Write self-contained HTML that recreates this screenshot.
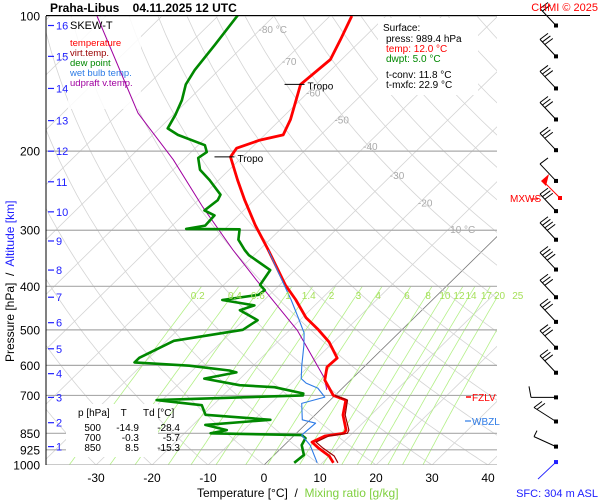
<!DOCTYPE html>
<html><head><meta charset="utf-8"><style>
body{margin:0;background:#fff;}
svg{display:block;font-family:"Liberation Sans",sans-serif;}
</style></head><body>
<svg id="c" width="600" height="500" viewBox="0 0 600 500" xmlns="http://www.w3.org/2000/svg">
<defs><clipPath id="plot"><rect x="46" y="16" width="451" height="449"/></clipPath></defs>
<rect width="600" height="500" fill="#fff"/>
<g id="grid" clip-path="url(#plot)"></g>
<g id="series" clip-path="url(#plot)"></g>
<g id="ann"></g>
</svg>
<script>
const pressTicks=[100,200,300,400,500,600,700,850,925,1000];
const tempTicks=[-30,-20,-10,0,10,20,30,40];
const kmTicks=[1,2,3,4,5,6,7,8,9,10,11,12,13,14,15,16];
const kmP=[910,805,707,626,551,482,423,368,317,273,234,200,171,145,123,105];
const mixRatios=[0.2,0.4,0.6,1,1.4,2,3,4,6,8,10,12,14,17,20,25];
const isoLabels=[-80,-70,-60,-50,-40,-30,-20,-10];
const isoLabelP=[107,126,148,170,195,226,260,298];
const tempP=[100,113,125,142,170,184,189,197,206,232,257,292,332,397,428,470,500,532,578,605,647,700,717,774,836,850,862,889,915,955,989];
const tempT=[-66.1,-63.8,-62,-62.8,-58.2,-56.7,-59.9,-62.6,-62.1,-56.6,-51.7,-45.3,-38.4,-29,-24.5,-19.3,-14.9,-10.8,-6.4,-6.6,-4.6,-0.3,2.8,5,8.3,8.5,5.6,4.4,6.5,10,12];
const virtP=[700,717,774,836,850,862,889,915,955,989];
const virtT=[0,3.1,5.4,8.8,9.1,6.3,5.1,7.3,10.9,12.8];
const dewP=[99.5,116,132,142,154,166,178,184,194,201,207,220,232,250,257,271,278,293,298,298.5,315,332,341,368,397,408,418,429,441,452,476,500,529,577,591,601,616,622,642,664,671,693,700,717,736,773,793,814,836,850,858,871,903,950,989];
const dewT=[-86.6,-85.3,-84.3,-83.3,-81.1,-79.6,-78.5,-75.5,-68.8,-67.2,-67.7,-65.2,-61.6,-57,-56.5,-57,-54.3,-54.1,-56.9,-47.3,-45.6,-42.6,-40.9,-34.4,-33.5,-31.7,-32,-37.5,-30.8,-32.5,-27.5,-28.4,-38.7,-41.8,-41.8,-31.4,-23.4,-21.8,-26.4,-18.9,-12.3,-6,-5.7,-31,-22,-19.6,-7.1,-17.8,-13,-15.3,1.3,2.5,3.1,5.3,5];
const wbP=[332,401,429,470,508,541,600,642,657,674,706,729,793,807,858,903,989];
const wbT=[-38.4,-28.7,-25.2,-20.7,-16.9,-14.7,-11.4,-9.1,-7.4,-4.4,-1.5,-4.5,-1.4,1.6,1.3,4.6,9.1];
const parP=[100,164.5,209,266.5,332,387,502,642,680];
const parT=[-111.6,-86.6,-71.8,-57.9,-44.7,-35.1,-18.5,-4.9,-2.5];
const windP=[105,123,145,170,199,233,272,315,367,423,480,548,623,707,800,910,985];
const windFeathers=[2,3,3,3,3,1,3,4,4,3,3,3,3,1,2,1,0];

const NS="http://www.w3.org/2000/svg";
function yP(p){return 16+449*Math.log10(p/100);}
function xT(t,p){return 264+5.6*t+1.02*(465-yP(p));}
function el(tag,attrs,parent,txt){const e=document.createElementNS(NS,tag);for(const k in attrs)e.setAttribute(k,attrs[k]);if(txt!==undefined)e.textContent=txt;parent.appendChild(e);return e;}
const svg=document.getElementById('c'),grid=document.getElementById('grid'),ser=document.getElementById('series'),ann=document.getElementById('ann');

for(let t=-160;t<=40;t+=10){
  const l=el('line',{x1:xT(t,1000),y1:yP(1000),x2:xT(t,100),y2:yP(100),stroke:t===0?'#777':'#d4d4d4','stroke-width':0.8},grid);
  
  
}
for(let th=-40;th<=200;th+=10){
  let d='';
  for(let p=1000;p>=100;p-=10){const T=(th+273.15)*Math.pow(p/1000,0.286)-273.15;d+=(p===1000?'M':'L')+xT(T,p).toFixed(1)+','+yP(p).toFixed(1);}
  const a=el('path',{d:d,fill:'none',stroke:'#d4d4d4','stroke-width':0.8},grid);
  
  
}
mixRatios.forEach(w=>{
  let d='';
  for(let p=1000;p>=400;p-=10){const e=w*p/(622+w);const L=Math.log(e/6.112);const T=243.5*L/(17.67-L);d+=(p===1000?'M':'L')+xT(T,p).toFixed(1)+','+yP(p).toFixed(1);}
  const m=el('path',{d:d,fill:'none',stroke:'#b4f088','stroke-width':0.8},grid);
  
  
});
pressTicks.forEach(p=>{
  const l=el('line',{x1:46,x2:497,y1:yP(p),y2:yP(p),stroke:'#aaa','stroke-width':1.2},grid);
  
  
  const t=el('text',{x:40,y:yP(p)+4.5,'text-anchor':'end','font-size':12,fill:'#000'},ann,String(p));
  
  
});
const b1=el('rect',{x:68,y:17,width:73,height:92,fill:'#fff','fill-opacity':0.85},grid);

const b2=el('rect',{x:378,y:18,width:100,height:77,fill:'#fff'},grid);

const b3=el('rect',{x:66,y:404,width:92,height:53,fill:'#fff'},grid);


function line(P,T,color,w,name){
  const d=P.map((p,i)=>(i?'L':'M')+xT(T[i],p).toFixed(1)+','+yP(p).toFixed(1)).join('');
  const e=el('path',{d:d,fill:'none',stroke:color,'stroke-width':w,'stroke-linejoin':'round'},ser);
  
  
}
line(parP,parT,'#a000a0',1,'updraft-virtual-temp-line');
line(dewP,dewT,'#008800',2.6,'dew-point-line');
line(tempP,tempT,'#ff0000',2.8,'temperature-line');
line(virtP,virtT,'#990000',1.2,'virtual-temp-line');
line(wbP,wbT,'#2d7be6',1.1,'wet-bulb-line');

el('line',{x1:46,y1:16,x2:46,y2:465,stroke:'#000','stroke-width':1},ann);
el('line',{x1:46,y1:15.5,x2:590,y2:15.5,stroke:'#000','stroke-width':1},ann);
tempTicks.forEach(t=>{
  const e=el('text',{x:xT(t,1000),y:482,'text-anchor':'middle','font-size':12},ann,String(t));
  
  
});
kmTicks.forEach((k,i)=>{
  const y=yP(kmP[i]);
  const l=el('line',{x1:48,x2:54,y1:y,y2:y,stroke:'#2020ff','stroke-width':1.2},ann);
  
  
  const t=el('text',{x:56,y:y+4,'font-size':11,fill:'#2020ff'},ann,String(k));
  
  
});
mixRatios.forEach(w=>{
  const e=w*400/(622+w);const L=Math.log(e/6.112);const T=243.5*L/(17.67-L);
  const t=el('text',{x:xT(T,400)-4,y:299,'text-anchor':'middle','font-size':10,fill:'#a6e05a'},ann,String(w));
  
  
});
isoLabels.forEach((t,i)=>{
  const p=isoLabelP[i];
  const tx=el('text',{x:xT(t,p)-2,y:yP(p)+4,'font-size':10,fill:'#aaa'},ann,(t===-80||t===-10)?t+' °C':String(t));
  
  
});
windP.forEach((p,i)=>{
  const y=yP(p);
  const g=el('g',{stroke:'#000','stroke-width':1,fill:'none'},ann);
  
  
  if(i===13){
    el('line',{x1:556,y1:y,x2:531,y2:y},g);
    el('line',{x1:531,y1:y,x2:529,y2:y-11},g);
  } else if(i===16){
    el('line',{x1:556,y1:y,x2:538,y2:y+17,stroke:'#2020ff'},g);
  } else if(i===15){
    el('line',{x1:556,y1:y,x2:534,y2:y-10},g);
    el('line',{x1:534,y1:y-10,x2:537,y2:y-16},g);
  } else {
    let ex=540,ey=y-17;
    if(i===14){ex=534;ey=y-14;}
    el('line',{x1:556,y1:y,x2:ex,y2:ey},g);
    for(let f=0;f<windFeathers[i];f++){
      const t=f*3.5;const dx=(556-ex),dy=(y-ey);const L=Math.hypot(dx,dy);
      const px=ex+dx/L*t,py=ey+dy/L*t;
      el('line',{x1:px,y1:py,x2:px+8,y2:py-6},g);
    }
  }
  el('rect',{x:554,y:y-2,width:4,height:4,fill:i===16?'#2020ff':'#000',stroke:'none'},g);
});
const mx=el('g',{},ann);


el('line',{x1:560,y1:198,x2:543,y2:181,stroke:'#f00','stroke-width':1},mx);
el('polygon',{points:'541,181 549,174 546,186',fill:'#f00'},mx);
el('rect',{x:558,y:196,width:4,height:4,fill:'#f00'},mx);
[142,206].forEach(p=>{
  const x=xT(tempT[tempP.indexOf(p)],p);
  el('line',{x1:x-16,x2:x+4,y1:yP(p),y2:yP(p),stroke:'#000','stroke-width':1},ann);
  el('text',{x:x+7,y:yP(p)+5,'font-size':10},ann,'Tropo');
});
</script>
<svg width="600" height="500" style="position:absolute;left:0;top:0" font-family="Liberation Sans, sans-serif">
<text x="50" y="12" font-size="12" font-weight="bold" xml:space="preserve">Praha-Libus    04.11.2025 12 UTC</text>
<text x="598" y="11" font-size="11" fill="#f00" text-anchor="end">CHMI © 2025</text>
<text x="70" y="29" font-size="11">SKEW-T</text>
<text x="70" y="46" font-size="9.5" fill="#f00">temperature</text>
<text x="70" y="56" font-size="9.5" fill="#990000">virt.temp.</text>
<text x="70" y="66" font-size="9.5" fill="#008800">dew point</text>
<text x="70" y="76" font-size="9.5" fill="#2d7be6">wet bulb temp.</text>
<text x="70" y="86" font-size="9.5" fill="#a000a0">udpraft v.temp.</text>
<text x="383" y="31" font-size="10">Surface:</text>
<text x="386" y="42" font-size="10">press: 989.4 hPa</text>
<text x="386" y="52" font-size="10" fill="#f00">temp: 12.0 °C</text>
<text x="386" y="62" font-size="10" fill="#008800">dwpt: 5.0 °C</text>
<text x="386" y="78" font-size="10">t-conv: 11.8 °C</text>
<text x="386" y="88" font-size="10">t-mxfc: 22.9 °C</text>
<text x="78" y="416" font-size="10" xml:space="preserve">p [hPa]    T      Td [°C]</text>
<g font-size="10" text-anchor="end">
<text x="101" y="431">500</text><text x="139" y="431">-14.9</text><text x="180" y="431">-28.4</text>
<text x="101" y="441">700</text><text x="139" y="441">-0.3</text><text x="180" y="441">-5.7</text>
<text x="101" y="451">850</text><text x="139" y="451">8.5</text><text x="180" y="451">-15.3</text>
</g>
<line x1="466" x2="471" y1="397" y2="397" stroke="#f00" stroke-width="1.5"/>
<text x="472" y="401" font-size="10" fill="#f00">FZLV</text>
<line x1="465" x2="471" y1="421" y2="421" stroke="#2d7be6" stroke-width="1.2"/>
<text x="472" y="425" font-size="10" fill="#2d7be6">WBZL</text>
<text x="510" y="202" font-size="10" fill="#f00">MXWS</text>
<line x1="531" x2="538" y1="199" y2="199" stroke="#f00" stroke-width="1.2"/>
<text x="197" y="497" font-size="12" xml:space="preserve">Temperature [°C]  /  <tspan fill="#80d040">Mixing ratio [g/kg]</tspan></text>
<text x="598" y="497" font-size="11" fill="#2020ff" text-anchor="end">SFC: 304 m ASL</text>
<text transform="translate(14,362) rotate(-90)" font-size="12" xml:space="preserve">Pressure [hPa]  /  <tspan fill="#2020ff">Altitude [km]</tspan></text>
</svg>
</body></html>
